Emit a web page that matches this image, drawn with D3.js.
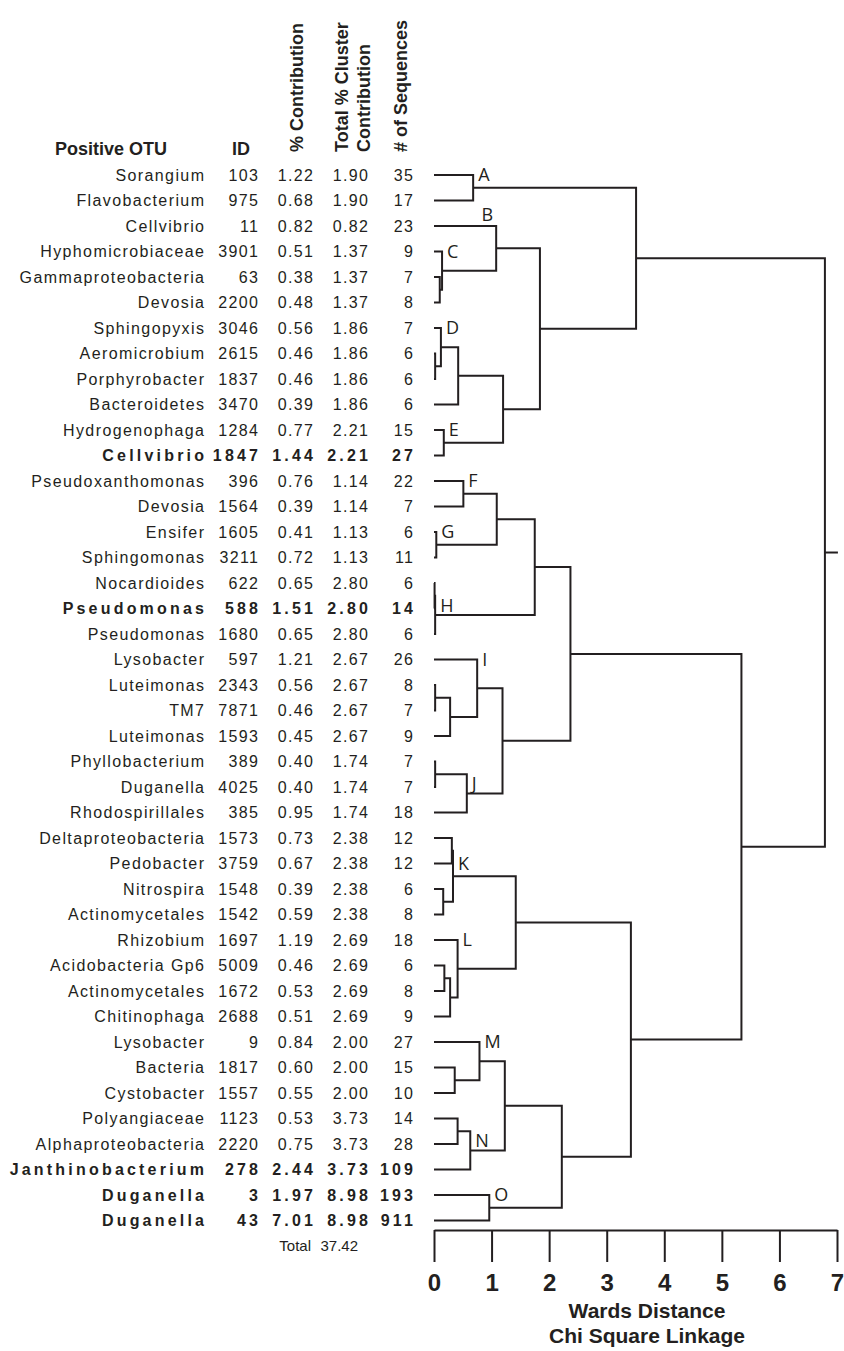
<!DOCTYPE html>
<html><head><meta charset="utf-8">
<script src="https://cdn.jsdelivr.net/npm/d3@7"></script>
<style>body{margin:0;background:#fff} svg{display:block}</style>
</head><body>
<svg id="c" width="844" height="1351"></svg>
<script>
const otuNames = ["Sorangium","Flavobacterium","Cellvibrio","Hyphomicrobiaceae","Gammaproteobacteria","Devosia","Sphingopyxis","Aeromicrobium","Porphyrobacter","Bacteroidetes","Hydrogenophaga","Cellvibrio","Pseudoxanthomonas","Devosia","Ensifer","Sphingomonas","Nocardioides","Pseudomonas","Pseudomonas","Lysobacter","Luteimonas","TM7","Luteimonas","Phyllobacterium","Duganella","Rhodospirillales","Deltaproteobacteria","Pedobacter","Nitrospira","Actinomycetales","Rhizobium","Acidobacteria Gp6","Actinomycetales","Chitinophaga","Lysobacter","Bacteria","Cystobacter","Polyangiaceae","Alphaproteobacteria","Janthinobacterium","Duganella","Duganella"];
const otuIds = [103,975,11,3901,63,2200,3046,2615,1837,3470,1284,1847,396,1564,1605,3211,622,588,1680,597,2343,7871,1593,389,4025,385,1573,3759,1548,1542,1697,5009,1672,2688,9,1817,1557,1123,2220,278,3,43];
const pctContribution = [1.22,0.68,0.82,0.51,0.38,0.48,0.56,0.46,0.46,0.39,0.77,1.44,0.76,0.39,0.41,0.72,0.65,1.51,0.65,1.21,0.56,0.46,0.45,0.40,0.40,0.95,0.73,0.67,0.39,0.59,1.19,0.46,0.53,0.51,0.84,0.60,0.55,0.53,0.75,2.44,1.97,7.01];
const clusterContribution = [1.90,1.90,0.82,1.37,1.37,1.37,1.86,1.86,1.86,1.86,2.21,2.21,1.14,1.14,1.13,1.13,2.80,2.80,2.80,2.67,2.67,2.67,2.67,1.74,1.74,1.74,2.38,2.38,2.38,2.38,2.69,2.69,2.69,2.69,2.00,2.00,2.00,3.73,3.73,3.73,8.98,8.98];
const seqCounts = [35,17,23,9,7,8,7,6,6,6,15,27,22,7,6,11,6,14,6,26,8,7,9,7,7,18,12,12,6,8,18,6,8,9,27,15,10,14,28,109,193,911];
const boldRows = [11,17,39,40,41];
const totalContribution = 37.42;

// merges: [name, child1, child2, Wards distance]; numbers are leaf (row) indices
const merges = [
 ["A",0,1,0.68],["C1",4,5,0.10],["C",3,"C1",0.14],["B",2,"C",1.08],
 ["D1",7,8,0.02],["D",6,"D1",0.12],["D2","D",9,0.42],["E",10,11,0.17],
 ["DE","D2","E",1.20],["BE","B","DE",1.84],["AE","A","BE",3.51],
 ["F",12,13,0.51],["G",14,15,0.04],["FG","F","G",1.09],
 ["H1",16,17,0.01],["H","H1",18,0.02],["FH","FG","H",1.75],
 ["I1",20,21,0.02],["I2","I1",22,0.28],["I",19,"I2",0.75],
 ["J1",23,24,0.02],["J","J1",25,0.57],["IJ","I","J",1.19],["FJ","FH","IJ",2.37],
 ["K1",26,27,0.31],["K2",28,29,0.16],["K","K1","K2",0.33],
 ["L1",31,32,0.18],["L2","L1",33,0.28],["L",30,"L2",0.41],["KL","K","L",1.42],
 ["M1",35,36,0.36],["M",34,"M1",0.79],["N1",37,38,0.41],["N","N1",39,0.63],
 ["MN","M","N",1.23],["O",40,41,0.96],["MO","MN","O",2.22],["KO","KL","MO",3.42],
 ["FO","FJ","KO",5.34],["root","AE","FO",6.79]
];
const clusterLabels = ["A","B","C","D","E","F","G","H","I","J","K","L","M","N","O"];
const axisTicks = [0,1,2,3,4,5,6,7];

const ink = "#231f20";
const svg = d3.select("#c");
const y = d3.scaleLinear().domain([0, otuNames.length - 1]).range([175, 1220.5]);
const x = d3.scaleLinear().domain([0, 7]).range([434, 837]);

// ---- header
const hdr = svg.append("g").attr("fill", ink).attr("font-family", "Liberation Sans, Arial, sans-serif").attr("font-weight", "bold").attr("font-size", 18);
hdr.append("text").attr("x", 55).attr("y", 155).text("Positive OTU");
hdr.append("text").attr("x", 232).attr("y", 155).text("ID");
const rot = [["% Contribution", 303], ["Total % Cluster", 348], ["Contribution", 370], ["# of Sequences", 407]];
rot.forEach(([t, bx]) => {
  hdr.append("text").attr("transform", `translate(${bx},152) rotate(-90)`).text(t);
});

// ---- table
const tbl = svg.append("g").attr("fill", ink).attr("font-family", "Liberation Sans, Arial, sans-serif").attr("font-size", 16).attr("text-anchor", "end");
const cols = [
  {x: 204, v: i => otuNames[i]},
  {x: 258, v: i => String(otuIds[i])},
  {x: 313, v: i => pctContribution[i].toFixed(2)},
  {x: 368, v: i => clusterContribution[i].toFixed(2)},
  {x: 413, v: i => String(seqCounts[i])}
];
otuNames.forEach((n, i) => {
  const b = boldRows.includes(i);
  const ls = b ? 3.2 : 1.4;
  cols.forEach(c => {
    tbl.append("text")
      .attr("x", c.x + ls).attr("y", y(i)).attr("dy", "0.36em")
      .attr("font-weight", b ? "bold" : "normal")
      .attr("letter-spacing", ls)
      .text(c.v(i));
  });
});
tbl.append("text").attr("x", 311).attr("y", y(otuNames.length)).attr("dy", "0.36em").attr("font-size", 15).text("Total");
tbl.append("text").attr("x", 358).attr("y", y(otuNames.length)).attr("dy", "0.36em").attr("font-size", 15).text(totalContribution.toFixed(2));

// ---- dendrogram
const nodes = {};
function getNode(c) {
  if (typeof c === "number") return {y: y(c), h: 0, leaf: true};
  return nodes[c];
}
const dg = svg.append("g").attr("fill", "none").attr("stroke", ink).attr("stroke-width", 2).attr("stroke-linejoin", "miter");
merges.forEach(([name, c1, c2, h]) => {
  const a = getNode(c1), b = getNode(c2);
  const nx = x(h);
  const ny = (a.y + b.y) / 2;
  nodes[name] = {y: ny, h: h, x: nx, a: a, b: b};
  dg.append("path").attr("d", `M${x(a.h)},${a.y}H${nx}V${b.y}H${x(b.h)}`);
});
const root = nodes["root"];
dg.append("path").attr("d", `M${root.x},${root.y}H${root.x + 13}`);

// cluster letters
const lab = svg.append("g").attr("fill", ink).attr("font-family", "Open Sans, Noto Sans, sans-serif").attr("font-size", 18);
clusterLabels.forEach(l => {
  const n = nodes[l];
  const top = n.a;
  if (l === "B") {
    lab.append("text").attr("x", n.x - 3).attr("y", top.y - 5).attr("text-anchor", "end").text(l);
    return;
  }
  const ly = top.leaf ? top.y : (top.y + n.y) / 2;
  lab.append("text").attr("x", n.x + 5).attr("y", ly).attr("dy", "0.36em").text(l);
});

// ---- axis
const axisY = 1230;
const ax = svg.append("g").attr("transform", `translate(0,${axisY})`)
  .call(d3.axisBottom(x).tickValues(axisTicks).tickSize(32).tickSizeOuter(0).tickPadding(12).tickFormat(d3.format("d")));
ax.select(".domain").attr("stroke", ink).attr("stroke-width", 2);
ax.selectAll(".tick line").attr("stroke", ink).attr("stroke-width", 2);
ax.selectAll(".tick text").attr("fill", ink).attr("font-family", "Liberation Sans, Arial, sans-serif").attr("font-weight", "bold").attr("font-size", 24);
const at = svg.append("g").attr("fill", ink).attr("font-family", "Liberation Sans, Arial, sans-serif").attr("font-weight", "bold").attr("font-size", 21).attr("text-anchor", "middle");
at.append("text").attr("x", 647).attr("y", 1318).text("Wards Distance");
at.append("text").attr("x", 647).attr("y", 1343).text("Chi Square Linkage");
</script>
</body></html>
